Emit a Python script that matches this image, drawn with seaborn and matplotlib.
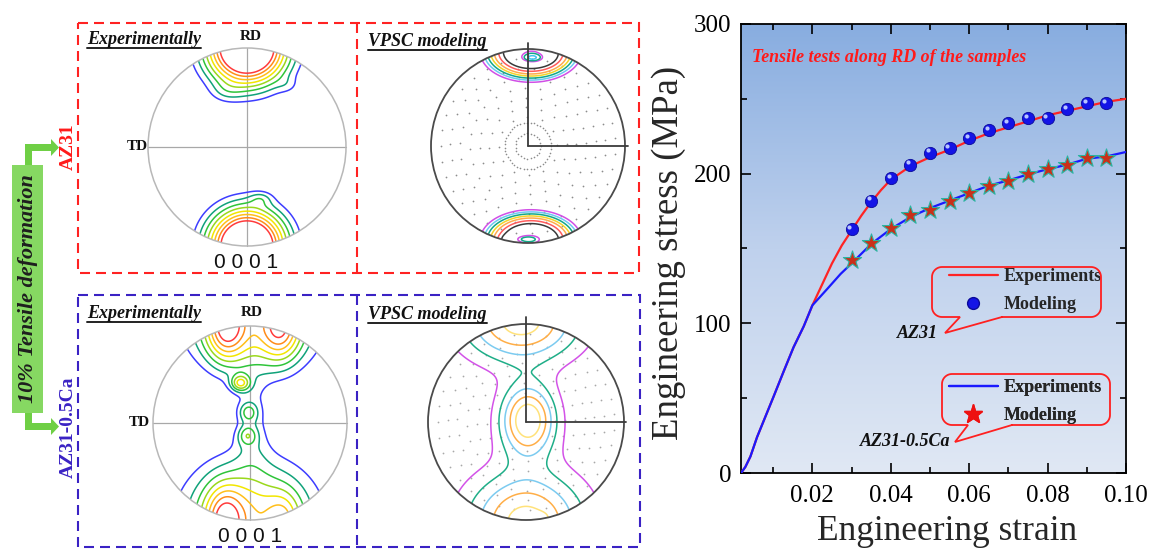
import numpy as np
import pandas as pd
import matplotlib
matplotlib.use("Agg")
import matplotlib.pyplot as plt
import seaborn as sns
from matplotlib.colors import LinearSegmentedColormap
from matplotlib.lines import Line2D
from matplotlib.patches import Circle, Polygon, Rectangle
from matplotlib.transforms import ScaledTranslation

# ---------------- tensile curves (engineering strain / stress, MPa) ----------------
strain_az31 = [0.0018, 0.0029, 0.0042, 0.0059, 0.0101, 0.0127, 0.0152, 0.0178, 0.0200,
               0.0225, 0.0250, 0.0275, 0.0300, 0.0325, 0.0350, 0.0375, 0.0400, 0.0450,
               0.0500, 0.0550, 0.0600, 0.0650, 0.0700, 0.0750, 0.0800, 0.0850, 0.0900,
               0.0950, 0.1000]
stress_az31 = [0, 4, 11, 24, 51, 68, 84, 98, 112,
               126, 140, 152, 162, 172, 181, 189, 196, 205,
               211, 216, 222, 227, 231, 235, 239, 242, 245,
               248, 250]

strain_ca = [0.0018, 0.0029, 0.0042, 0.0059, 0.0101, 0.0127, 0.0152, 0.0178, 0.0200,
             0.0238, 0.0272, 0.0300, 0.0350, 0.0400, 0.0450, 0.0500, 0.0550, 0.0600,
             0.0650, 0.0700, 0.0750, 0.0800, 0.0850, 0.0900, 0.0950, 0.1000]
stress_ca = [0, 4, 11, 24, 51, 68, 84, 98, 112,
             123, 133, 140, 153, 163, 171, 177, 182, 187,
             192, 195.5, 199.5, 203, 206, 210, 211.5, 214.5]

model_strain = [0.030, 0.035, 0.040, 0.045, 0.050, 0.055, 0.060,
                0.065, 0.070, 0.075, 0.080, 0.085, 0.090, 0.095]
model_az31 = [163, 182, 197, 206, 214, 217, 224, 229, 234, 237, 237, 243, 247, 247]
model_ca = [142, 154, 163.5, 172.5, 176, 182, 187, 192, 195, 200, 203, 205.5, 210.5, 210.5]

x_ticks = [0.02, 0.04, 0.06, 0.08, 0.10]
x_ticklabels = ["0.02", "0.04", "0.06", "0.08", "0.10"]
y_ticks = [0, 100, 200, 300]

# ---------------- (0001) pole figures: Gaussian texture components ----------------
# each component: (x0, y0, sigma_x, sigma_y, intensity) in the unit projection circle
pf_az31_exp = [(0.00, 1.00, 0.29, 0.27, 7.0), (-0.22, 0.55, 0.12, 0.08, 0.5),
               (0.42, 0.62, 0.08, 0.06, 0.4), (0.00, -1.00, 0.28, 0.27, 7.0),
               (0.14, -0.52, 0.08, 0.05, 0.7)]
pf_ca_exp = [(0.03, 1.00, 0.50, 0.36, 3.0), (-0.25, 1.00, 0.14, 0.25, 2.6),
             (0.32, 1.00, 0.14, 0.25, 2.3), (-0.10, 0.41, 0.07, 0.06, 2.1),
             (-0.02, 0.11, 0.07, 0.07, 1.2), (-0.03, -0.13, 0.07, 0.07, 1.2),
             (0.02, 0.00, 0.13, 0.35, 0.9), (0.00, -1.00, 0.50, 0.45, 3.4),
             (-0.27, -1.00, 0.14, 0.25, 2.2), (0.35, -1.00, 0.12, 0.20, 1.2)]
levels_exp = [1.0, 1.5, 2.0, 2.5, 3.0, 3.5, 4.0, 4.5]
colors_exp = ["#3d3dff", "#10a27a", "#2fc43a", "#9ad81c", "#f2e600", "#ffbf1a", "#ff8c1a", "#ff3b3b"]

pf_az31_vpsc = [(0.03, 0.97, 0.20, 0.12, 30.0), (0.05, 0.905, 0.09, 0.035, 18.0),
                (0.03, -0.97, 0.20, 0.12, 30.0), (-0.03, -0.96, 0.12, 0.03, 10.0)]
levels_vpsc_az31 = [1, 1.6, 2.4, 3.5, 5, 7.5, 11, 32, 36, 42]
colors_vpsc_az31 = ["#d14fe6", "#6dc9f2", "#13a889", "#f2d52a", "#ffab4d", "#ff5c5c", "#3a3a3a",
                    "#d14fe6", "#13a889", "#3fc6f0"]

pf_ca_vpsc = [(0.02, 0.02, 0.196, 0.25, 6.0), (-0.05, 1.02, 0.42, 0.29, 5.5),
              (0.00, -1.02, 0.42, 0.36, 5.5), (0.12, -0.97, 0.06, 0.03, 1.2)]
levels_vpsc_ca = [1, 2, 3, 4, 5]
colors_vpsc_ca = ["#d353e8", "#1fae88", "#7ccbf0", "#ffae47", "#ffe27a"]

# ---------------- figure ----------------
sns.set_style("ticks")
plt.rcParams["font.family"] = ["Liberation Serif", "DejaVu Serif"]
plt.rcParams["axes.unicode_minus"] = False

W, H = 1153, 550
fig = plt.figure(figsize=(W / 100, H / 100), dpi=100, facecolor="white")


def rect(x0, y0, x1, y1):
    return [x0 / W, 1 - y1 / H, (x1 - x0) / W, (y1 - y0) / H]


# transparent overlay in pixel coordinates (y downwards) for annotations
ov = fig.add_axes([0, 0, 1, 1])
ov.set_xlim(0, W)
ov.set_ylim(H, 0)
ov.axis("off")
ov.patch.set_visible(False)
ov.set_zorder(10)

# ---------------- stress-strain panel ----------------
ax = fig.add_axes(rect(741, 24, 1126, 473))
grad = np.linspace(0, 1, 256).reshape(-1, 1)
bg = LinearSegmentedColormap.from_list("bg", ["#88ade0", "#bfd1ed", "#e0e8f4"])
ax.imshow(grad, cmap=bg, aspect="auto", extent=[0, 1, 0, 1], transform=ax.transAxes,
          zorder=0, interpolation="bilinear")

red = "#ff2424"
blue = "#1a1aff"
sns.lineplot(x=strain_az31, y=stress_az31, sort=False, estimator=None, color=red, lw=1.6,
             ax=ax, zorder=3)
sns.lineplot(x=strain_ca, y=stress_ca, sort=False, estimator=None, color=blue, lw=1.6,
             ax=ax, zorder=4)

sns.scatterplot(x=model_strain, y=model_az31, s=78, color="#1414e6", edgecolor="#0a0a9a",
                linewidth=0.6, ax=ax, zorder=6)
hl = ax.transData + ScaledTranslation(-1.6 / 72, 1.6 / 72, fig.dpi_scale_trans)
ax.scatter(model_strain, model_az31, s=9, color="#b8c4ff", linewidths=0, transform=hl, zorder=7)
sns.scatterplot(x=model_strain, y=model_ca, s=190, marker="*", color="#c9301a",
                edgecolor="#2bb3a0", linewidth=0.8, ax=ax, zorder=5)

ax.set_xlim(0.0018, 0.1)
ax.set_ylim(0, 300)
ax.set_xticks(x_ticks)
ax.set_xticklabels(x_ticklabels)
ax.set_xticks([0.01, 0.03, 0.05, 0.07, 0.09], minor=True)
ax.set_yticks(y_ticks)
ax.set_yticks([50, 150, 250], minor=True)
ax.tick_params(which="both", direction="in", top=True, right=True, width=1.2, colors="black")
ax.tick_params(which="major", length=7, labelsize=18)
ax.tick_params(which="minor", length=4)
ax.tick_params(axis="x", which="major", pad=9)
ax.tick_params(axis="y", which="major", pad=7)
for sp in ax.spines.values():
    sp.set_visible(True)
    sp.set_linewidth(1.3)
    sp.set_color("black")
ax.set_xlabel("Engineering strain", fontsize=25.5)
ax.set_ylabel("Engineering stress (MPa)", fontsize=26.5)
ax.xaxis.set_label_coords((947 - 741) / 385, (473 - 515) / 449)
ax.yaxis.set_label_coords((686 - 741) / 385, 0.49)

ax.text((752 - 741) / 385, 1 - (58 - 24) / 449, "Tensile tests along RD of the samples",
        transform=ax.transAxes, color="#ff1a1a", fontsize=12.9, fontweight="bold",
        fontstyle="italic", ha="left", va="center", zorder=8)

leg_kw = dict(frameon=False, loc="upper left", borderpad=0, borderaxespad=0,
              handlelength=2.7, handletextpad=0.3, labelspacing=0.62,
              prop={"family": "Liberation Serif", "weight": "bold", "size": 13})
h1 = [Line2D([], [], color=red, lw=1.6),
      Line2D([], [], ls="", marker="o", ms=8.5, mfc="#1414e6", mec="#0a0a9a")]
leg1 = ax.legend(h1, ["Experiments", "Modeling"], bbox_to_anchor=(949, 268),
                 bbox_transform=ov.transData, **leg_kw)
ax.add_artist(leg1)
h2 = [Line2D([], [], color=blue, lw=1.6),
      Line2D([], [], ls="", marker="*", ms=14, mfc="#ee1111", mec="#ee1111")]
leg2 = ax.legend(h2, ["Experiments", "Modeling"], bbox_to_anchor=(949, 379),
                 bbox_transform=ov.transData, **leg_kw)
ax.add_artist(leg2)


def callout(x0, y0, x1, y1, rad, bl, br, tip):
    pts = [(br, y1)]
    def arc(cx, cy, a0, a1):
        t = np.linspace(a0, a1, 12)
        return list(zip(cx + rad * np.cos(t), cy + rad * np.sin(t)))
    pts += arc(x1 - rad, y1 - rad, np.pi / 2, 0)
    pts += arc(x1 - rad, y0 + rad, 0, -np.pi / 2)
    pts += arc(x0 + rad, y0 + rad, -np.pi / 2, -np.pi)
    pts += arc(x0 + rad, y1 - rad, np.pi, np.pi / 2)
    pts += [(bl, y1), tip, (br, y1)]
    xs, ys = zip(*pts)
    ov.plot(xs, ys, color="#ff2020", lw=1.3, solid_joinstyle="miter")


callout(932, 267, 1101, 317, 10, 960, 1002, (945, 333))
callout(942, 374, 1110, 425, 10, 968, 1012, (955, 442))
ov.text(938, 333, "AZ31", ha="right", va="center", fontsize=13, fontweight="bold",
        fontstyle="italic", color="#111111")
ov.text(950, 442, "AZ31-0.5Ca", ha="right", va="center", fontsize=13, fontweight="bold",
        fontstyle="italic", color="#111111")


# ---------------- pole figures ----------------
def pole_figure(cx, cy, r, comps, levels, colors, vpsc, vlen=1.06, hlen=1.03, dot_color="#8c8c8c",
                inner_rings=True):
    pax = fig.add_axes(rect(cx - 1.15 * r, cy - 1.15 * r, cx + 1.15 * r, cy + 1.15 * r))
    pax.set_xlim(-1.15, 1.15)
    pax.set_ylim(-1.15, 1.15)
    pax.set_aspect("equal")
    pax.axis("off")
    g = np.linspace(-1.05, 1.05, 321)
    X, Y = np.meshgrid(g, g)
    Z = np.zeros_like(X)
    for x0, y0, sx, sy, a in comps:
        Z += a * np.exp(-((X - x0) ** 2 / (2 * sx ** 2) + (Y - y0) ** 2 / (2 * sy ** 2)))
    if vpsc:
        # polar sampling grid
        for rr in np.arange(0.3, 1.0, 0.1):
            n = int(round(2 * np.pi * rr / 0.16))
            t = np.linspace(0, 2 * np.pi, n, endpoint=False) + 0.1 * rr
            pax.scatter(rr * np.cos(t), rr * np.sin(t), s=1.6, color=dot_color, linewidths=0, zorder=1)
        if inner_rings:
            for rr in (0.13, 0.24):
                n = int(round(2 * np.pi * rr / 0.035))
                t = np.linspace(0, 2 * np.pi, n, endpoint=False)
                pax.scatter(rr * np.cos(t), rr * np.sin(t), s=1.4, color=dot_color, linewidths=0, zorder=1)
    cs = pax.contour(X, Y, Z, levels=levels, colors=colors, linewidths=1.1, zorder=3)
    clip = Circle((0, 0), 1.0, transform=pax.transData)
    cs.set_clip_path(clip)
    if vpsc:
        pax.add_patch(Circle((0, 0), 1.0, fill=False, ec="#4a4a4a", lw=1.3, zorder=4))
        pax.plot([0, 0], [0, vlen], color="#3a3a3a", lw=1.3, zorder=4)
        pax.plot([0, hlen], [0, 0], color="#3a3a3a", lw=1.3, zorder=4)
    else:
        pax.add_patch(Circle((0, 0), 1.0, fill=False, ec="#b8b8b8", lw=1.1, zorder=4))
        pax.plot([-1, 1], [0, 0], color="#a8a8a8", lw=0.9, zorder=2)
        pax.plot([0, 0], [-1, 1], color="#a8a8a8", lw=0.9, zorder=2)
    return pax


pole_figure(247, 147, 99, pf_az31_exp, levels_exp, colors_exp, False)
pole_figure(528, 146, 97, pf_az31_vpsc, levels_vpsc_az31, colors_vpsc_az31, True)
pole_figure(250, 423, 97, pf_ca_exp, levels_exp, colors_exp, False)
pole_figure(526, 422, 98, pf_ca_vpsc, levels_vpsc_ca, colors_vpsc_ca, True, vlen=1.07, hlen=1.02,
            dot_color="#a8a8a8", inner_rings=False)

# ---------------- frames and labels ----------------
dash = (0, (10 / 1.5 * 0.72, 6 / 1.5 * 0.72))
red_box = "#ff2222"
blue_box = "#3a22c4"
ov.add_patch(Rectangle((78, 23), 561, 250, fill=False, ec=red_box, lw=1.5, ls=dash))
ov.plot([357, 357], [23, 273], color=red_box, lw=1.5, ls=dash)
ov.add_patch(Rectangle((78, 295), 562, 252, fill=False, ec=blue_box, lw=1.5, ls=dash))
ov.plot([357, 357], [295, 547], color=blue_box, lw=1.5, ls=dash)

label_kw = dict(fontsize=13, fontweight="bold", fontstyle="italic", color="#111111", ha="left",
                va="baseline")
titles = [ov.text(87, 44, "Experimentally", **label_kw),
          ov.text(368, 46, "VPSC modeling", **label_kw),
          ov.text(87, 318, "Experimentally", **label_kw),
          ov.text(368, 319, "VPSC modeling", **label_kw)]

ax_kw = dict(fontsize=11, fontweight="bold", color="#111111", ha="center", va="center")
ov.text(251, 37, "RD", **ax_kw)
ov.text(252, 312, "RD", **ax_kw)
ov.text(137, 147, "TD", **ax_kw)
ov.text(139, 422, "TD", **ax_kw)
ov.text(246, 263, "0 0 0 1", fontsize=15, family="Liberation Sans", ha="center", va="center",
        color="#111111")
ov.text(250, 537, "0 0 0 1", fontsize=15, family="Liberation Sans", ha="center", va="center",
        color="#111111")

ov.text(68.5, 147, "AZ31", rotation=90, fontsize=14, fontweight="bold", color="#ff1a1a",
        ha="center", va="center")
ov.text(68, 427, "AZ31-0.5Ca", rotation=90, fontsize=14, fontweight="bold", color=blue_box,
        ha="center", va="center")

# green deformation tag with arrows
green = "#6fcf45"
ov.add_patch(Rectangle((12, 165), 31, 248, fc="#86d862", ec="none"))
ov.text(28, 289, "10% Tensile deformation", rotation=90, fontsize=16, fontweight="bold",
        fontstyle="italic", color="#1e1e1e", ha="center", va="center")
ov.add_patch(Polygon([(25, 165), (25, 144), (51, 144), (51, 139), (59, 147.5), (51, 156),
                      (51, 151), (32, 151), (32, 165)], closed=True, fc=green, ec="none"))
ov.add_patch(Polygon([(25, 413), (25, 430), (51, 430), (51, 435), (59, 426.5), (51, 418),
                      (51, 423), (32, 423), (32, 413)], closed=True, fc=green, ec="none"))

# underline the panel titles
fig.canvas.draw()
r = fig.canvas.get_renderer()
for t in titles:
    bb = t.get_window_extent(renderer=r)
    x0, y_base = t.get_position()
    ov.plot([bb.x0, bb.x1], [y_base + 3.5, y_base + 3.5], color="#222222", lw=1.4)

fig.savefig("out.png", dpi=100, facecolor="white")
